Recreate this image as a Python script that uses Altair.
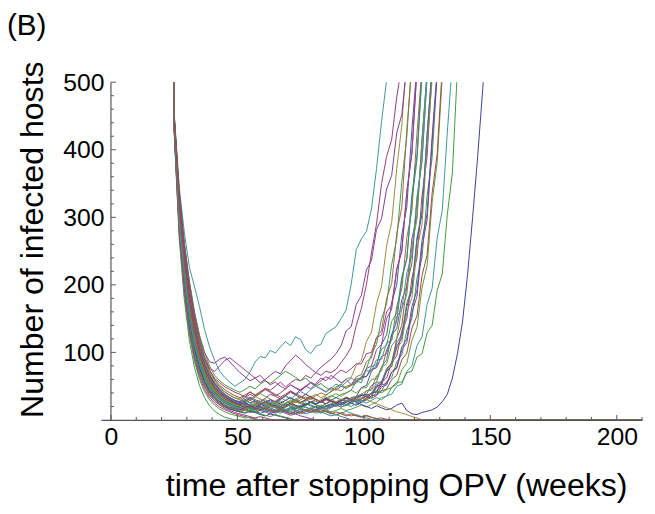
import altair as alt
import pandas as pd

# ---------------- data ----------------
FIRST_WEEK = 23          # week of the first value in every run
WEEK_STEP = 2            # weeks between successive values
FINAL_WEEK = 210         # runs that went extinct stay at 0 until this week
PANEL_LABEL = ["(B)"]

X_MAJOR = [0, 50, 100, 150, 200]
X_MINOR = [10, 20, 30, 40, 60, 70, 80, 90, 110, 120, 130, 140, 160, 170, 180, 190, 210]
Y_MAJOR = [100, 200, 300, 400, 500]
Y_MINOR = [20, 40, 60, 80, 120, 140, 160, 180, 220, 240, 260, 280,
           320, 340, 360, 380, 420, 440, 460, 480]
Y_AXIS_SPAN = [0, 500]

# re-emerging runs
r01 = [3000, 455, 345, 278, 226, 198, 168, 134, 108, 88, 72, 63, 56, 50,
       55, 60, 71, 86, 94, 92, 103, 99, 108, 116,
       110, 123, 119, 104, 98, 109, 112, 128, 133, 138,
       150, 163, 201, 252, 268, 279, 312, 372, 442, 503, 565]
r02 = [3000, 445, 330, 255, 196, 150, 113, 90, 74, 62, 55, 49, 45, 41,
       38, 34, 42, 36, 40, 47, 44, 50, 56, 49,
       55, 60, 58, 66, 62, 70, 66, 72, 70, 75,
       85, 95, 108, 140, 165, 200, 247, 290, 350, 390, 415, 478, 525]
r03 = [3000, 440, 305, 228, 168, 124, 93, 70, 55, 44, 36, 30, 27, 24,
       22, 26, 21, 25, 30, 27, 24, 28, 33, 29,
       26, 31, 35, 30, 34, 38, 33, 36, 42, 47,
       52, 61, 63, 81, 88, 116, 130, 172, 198, 258, 292, 372, 436, 540]
r04 = [3000, 450, 338, 262, 205, 160, 124, 100, 86, 84, 90, 93, 86, 78,
       70, 64, 58, 62, 55, 60, 66, 72, 68, 80,
       88, 96, 90, 82, 76, 70, 78, 84, 90, 98,
       110, 132, 138, 171, 184, 222, 236, 282, 298, 342, 362, 425, 452, 525]
r05 = [3000, 438, 298, 215, 158, 117, 87, 66, 51, 41, 34, 29, 25, 23,
       21, 24, 19, 22, 26, 23, 20, 25, 28, 24, 27, 31, 26, 29, 33, 30, 27, 32, 36, 33, 38,
       40, 44, 58, 55, 76, 97, 112, 150, 172, 230, 268, 352, 420, 535]
r06 = [3000, 447, 326, 250, 190, 146, 110, 85, 67, 54, 45, 38, 33, 29,
       27, 30, 25, 28, 22, 26, 30, 27, 23, 20, 24, 28, 25, 21, 26, 30, 27, 24, 29, 33, 30, 28,
       33, 35, 48, 51, 72, 80, 112, 126, 174, 200, 274, 316, 430, 525]
r07 = [3000, 442, 310, 232, 172, 128, 96, 73, 57, 46, 38, 33, 29, 26,
       28, 33, 38, 34, 40, 45, 41, 36, 40, 46, 52, 47, 43, 49, 55, 50, 46, 42, 48, 44, 50, 47,
       52, 61, 60, 76, 80, 104, 112, 150, 164, 222, 250, 338, 396, 520]
r08 = [3000, 436, 292, 208, 150, 109, 80, 60, 46, 37, 30, 25, 22, 19,
       17, 20, 15, 18, 14, 17, 21, 18, 15, 19, 23, 20, 17, 22, 26, 22, 19, 24, 28, 25, 22, 27, 30,
       30, 31, 43, 46, 65, 73, 104, 118, 168, 194, 270, 310, 424, 522]
r09 = [3000, 452, 335, 262, 205, 160, 126, 100, 80, 66, 58, 52, 48, 44,
       41, 45, 50, 46, 53, 58, 54, 60, 66, 72, 68, 63, 58, 62, 55, 50, 54, 48, 44, 49, 53, 47, 51,
       54, 63, 64, 79, 82, 105, 110, 146, 158, 212, 238, 326, 384, 512]
r10 = [3000, 432, 285, 200, 140, 100, 72, 53, 40, 31, 25, 20, 17, 14,
       12, 15, 11, 13, 10, 12, 15, 13, 16, 12, 14, 18, 15, 13, 17, 20, 17, 21, 24, 21, 25, 28, 26,
       30, 36, 38, 51, 56, 79, 89, 127, 146, 208, 240, 334, 392, 518]
r11 = [3000, 446, 322, 244, 184, 140, 106, 82, 65, 53, 44, 37, 32, 28,
       26, 30, 34, 30, 27, 32, 38, 35, 31, 36, 42, 38, 45, 50, 46, 54, 62, 58, 66, 61, 55, 60, 52, 57,
       64, 64, 75, 77, 94, 98, 126, 135, 178, 198, 268, 303, 416, 515]
r12 = [3000, 441, 306, 226, 166, 123, 91, 69, 53, 42, 34, 28, 24, 21,
       19, 16, 20, 17, 14, 18, 15, 12, 16, 13, 17, 14, 11, 15, 18, 15, 19, 16, 20, 23, 19, 22, 25, 22,
       26, 33, 35, 48, 53, 74, 85, 120, 140, 200, 232, 326, 384, 510]
r13 = [3000, 449, 330, 252, 193, 148, 112, 88, 70, 58, 49, 42, 37, 33,
       31, 35, 30, 34, 39, 35, 31, 27, 31, 36, 32, 28, 33, 38, 34, 30, 26, 30, 35, 39, 35, 40, 44, 40,
       47, 48, 60, 61, 78, 83, 110, 120, 165, 186, 258, 297, 414, 514]
r14 = [3000, 437, 296, 212, 153, 112, 82, 62, 48, 38, 31, 26, 22, 19,
       17, 14, 18, 22, 19, 24, 28, 25, 30, 35, 31, 37, 42, 38, 45, 50, 46, 41, 47, 53, 49, 56, 62, 58,
       64, 73, 72, 89, 90, 114, 118, 153, 164, 218, 243, 330, 384, 508]
r15 = [3000, 443, 314, 236, 177, 133, 99, 76, 60, 48, 40, 34, 29, 25,
       23, 26, 22, 19, 23, 27, 24, 21, 25, 29, 33, 29, 26, 30, 26, 23, 27, 31, 28, 24, 28, 32, 29, 33, 36,
       37, 38, 50, 53, 72, 79, 109, 121, 168, 192, 266, 305, 420, 520]
r16 = [3000, 434, 288, 204, 145, 104, 76, 56, 43, 34, 27, 22, 19, 16,
       14, 17, 13, 11, 14, 12, 9, 12, 15, 12, 10, 13, 16, 13, 11, 14, 17, 21, 18, 22, 26, 23, 27, 31, 28,
       32, 39, 42, 56, 62, 85, 95, 132, 150, 210, 240, 332, 390, 517]
r17 = [3000, 448, 328, 250, 192, 147, 111, 86, 68, 56, 47, 41, 36, 32,
       30, 27, 31, 35, 31, 28, 24, 28, 25, 21, 25, 29, 26, 23, 27, 24, 28, 32, 29, 26, 30, 34, 31, 35, 38,
       43, 44, 55, 57, 74, 79, 106, 116, 159, 181, 252, 290, 406, 505]
r18 = [3000, 439, 302, 220, 160, 118, 87, 66, 51, 40, 33, 27, 23, 20,
       18, 21, 17, 20, 24, 20, 17, 21, 18, 15, 19, 16, 20, 24, 21, 18, 22, 19, 23, 27, 24, 21, 25, 29, 26, 30,
       33, 40, 43, 57, 63, 86, 96, 133, 150, 210, 240, 332, 388, 515]
r19 = [3000, 444, 318, 240, 181, 137, 103, 79, 62, 50, 41, 35, 30, 26,
       24, 28, 32, 28, 24, 21, 25, 22, 19, 23, 20, 17, 21, 25, 22, 19, 16, 20, 23, 20, 24, 28, 25, 22, 26, 30,
       36, 37, 49, 52, 71, 78, 108, 120, 168, 192, 266, 305, 420, 520]
r20 = [3000, 451, 334, 258, 200, 155, 120, 94, 76, 72, 80, 88, 92, 86,
       80, 74, 68, 62, 66, 58, 52, 56, 50, 46, 52, 48, 44, 50, 56, 52, 58, 64, 60, 68, 74, 70,
       76, 83, 83, 98, 100, 122, 126, 160, 170, 224, 250, 338, 395, 520]
r21 = [3000, 433, 283, 196, 137, 97, 70, 51, 38, 29, 23, 19, 16, 14,
       12, 15, 13, 16, 19, 16, 20, 24, 21, 25, 29, 26, 30, 34, 31, 36, 40, 37, 42, 46, 43,
       50, 52, 64, 67, 86, 92, 122, 133, 180, 202, 276, 315, 430, 525]
r22 = [3000, 440, 304, 222, 162, 120, 89, 67, 52, 41, 33, 28, 24, 21,
       19, 16, 19, 22, 19, 16, 13, 16, 19, 16, 13, 10, 13, 16, 13, 10, 12, 15, 12, 14, 17, 14, 16, 19, 22, 19, 23,
       26, 33, 35, 48, 53, 74, 84, 118, 137, 196, 228, 322, 382, 508]
r23 = [3000, 446, 320, 242, 183, 139, 105, 81, 64, 52, 43, 37, 32, 28,
       26, 29, 25, 22, 26, 30, 26, 23, 20, 24, 21, 18, 22, 19, 16, 20, 17, 14, 18, 22, 19, 23, 20, 24, 28, 25,
       29, 33, 30,
       36, 38, 50, 53, 72, 80, 110, 123, 171, 195, 270, 310, 426, 530]
r24 = [3000, 437, 294, 210, 151, 110, 81, 61, 47, 37, 30, 25, 21, 18,
       16, 19, 16, 13, 16, 19, 22, 19, 16, 20, 24, 21, 18, 22, 26, 23, 20, 24, 28, 25, 29, 33, 30, 34, 38,
       35, 39, 43, 40, 45,
       48, 56, 56, 70, 72, 93, 98, 129, 140, 192, 216, 304, 366, 520]
r25 = [3000, 441, 309, 230, 170, 127, 95, 72, 56, 45, 37, 31, 27, 24,
       22, 25, 21, 18, 22, 26, 23, 20, 17, 21, 25, 22, 19, 23, 27, 24, 28, 32, 28, 25,
       29, 33, 30, 26, 23, 20, 17, 21, 18, 15, 17, 22, 25, 14, 9, 8, 11, 13, 15, 19,
       27, 38, 62, 98, 145, 215, 300, 390, 490, 600]
r26 = [3000, 435, 290, 206, 147, 106, 77, 57, 44, 35, 28, 23, 19, 17,
       15, 18, 21, 18, 22, 26, 30, 26, 31, 36, 41, 37, 33, 38, 34, 30, 26, 30, 27, 24, 28, 32, 29, 33, 37, 34,
       40, 41, 52, 54, 71, 76, 104, 115, 159, 183, 256, 296, 412, 512]
r27 = [3000, 450, 332, 255, 197, 152, 116, 91, 73, 60, 51, 45, 40, 36,
       33, 37, 41, 37, 42, 46, 42, 38, 34, 38, 43, 39, 35, 31, 35, 31, 27, 24, 28, 25, 22, 26, 30, 27, 31, 35, 32,
       36, 43, 46, 60, 66, 89, 99, 136, 154, 214, 244, 336, 394, 522]
r28 = [3000, 444, 316, 238, 179, 135, 101, 78, 62, 50, 42, 36, 31, 27,
       25, 21, 18, 15, 18, 14, 11, 14, 17, 14, 11, 9, 12, 15, 12, 16, 20, 17, 21, 25, 22, 26, 30, 27, 31,
       37, 39, 52, 56, 76, 84, 114, 126, 173, 196, 270, 309, 424, 524]

# runs that died out (last value 0)
e01 = [3000, 425, 268, 178, 118, 78, 51, 33, 21, 13, 8, 4, 2, 0]
e02 = [3000, 430, 278, 190, 130, 90, 63, 45, 33, 25, 19, 15, 12, 9, 7, 5, 3, 1, 0]
e03 = [3000, 436, 290, 205, 146, 105, 76, 56, 42, 32, 25, 20, 16, 14,
       12, 10, 13, 11, 8, 6, 9, 7, 5, 3, 0]
e04 = [3000, 441, 308, 228, 168, 125, 93, 71, 55, 44, 36, 30, 26, 23,
       21, 24, 20, 23, 27, 24, 21, 25, 22, 19, 23, 27, 24, 28, 31, 27, 30, 34, 30, 27,
       31, 28, 32, 29, 33, 30, 27, 24, 21, 18, 15, 12, 10, 8, 5, 3, 0]
e05 = [3000, 447, 324, 246, 187, 142, 107, 83, 66, 54, 45, 38, 33, 29,
       26, 23, 20, 17, 20, 16, 13, 10, 13, 10, 7, 9, 6, 4, 2, 0]
e06 = [3000, 433, 286, 200, 141, 101, 73, 54, 41, 32, 26, 21, 18, 15,
       13, 11, 14, 12, 9, 7, 5, 8, 6, 4, 2, 0]
e07 = [3000, 439, 300, 218, 158, 116, 86, 65, 50, 40, 33, 28, 24, 21,
       19, 22, 18, 15, 18, 21, 18, 15, 12, 15, 18, 15, 12, 9, 12, 15, 12, 9, 6, 8, 5, 3, 0]
e08 = [3000, 428, 274, 185, 126, 87, 60, 42, 30, 22, 16, 12, 9, 7, 5, 3, 4, 2, 0]
e09 = [3000, 442, 312, 232, 172, 128, 96, 73, 57, 46, 38, 32, 27, 24,
       21, 25, 29, 25, 22, 26, 22, 19, 16, 19, 23, 20, 17, 14, 17, 14, 11, 14, 11, 8,
       11, 8, 6, 8, 5, 7, 4, 2, 0]
e10 = [3000, 431, 281, 194, 134, 94, 67, 49, 36, 28, 22, 17, 14, 11, 9, 7, 5, 3, 5, 3, 1, 0]
e11 = [3000, 438, 296, 213, 154, 112, 83, 63, 49, 39, 32, 27, 23, 20,
       17, 20, 23, 19, 16, 13, 16, 13, 10, 13, 16, 13, 16, 19, 16, 13, 10, 13, 10, 7,
       10, 13, 10, 7, 5, 3, 1, 0]
e12 = [3000, 443, 316, 236, 176, 132, 99, 76, 60, 48, 40, 34, 29, 25,
       22, 19, 22, 18, 15, 18, 15, 12, 15, 12, 9, 12, 9, 12, 15, 12, 15, 12, 9, 12,
       9, 6, 9, 6, 4, 6, 4, 2, 3, 1, 0]

RUNS = [r01, r02, r03, r04, r05, r06, r07, r08, r09, r10, r11, r12, r13, r14,
        r15, r16, r17, r18, r19, r20, r21, r22, r23, r24, r25, r26, r27, r28,
        e01, e02, e03, e04, e05, e06, e07, e08, e09, e10, e11, e12]
RUN_NAMES = ["r01", "r02", "r03", "r04", "r05", "r06", "r07", "r08", "r09", "r10",
             "r11", "r12", "r13", "r14", "r15", "r16", "r17", "r18", "r19", "r20",
             "r21", "r22", "r23", "r24", "r25", "r26", "r27", "r28",
             "e01", "e02", "e03", "e04", "e05", "e06", "e07", "e08", "e09", "e10",
             "e11", "e12"]
COLORS = ["#3d9799", "#993d71", "#998b3d", "#833d99", "#3d9955", "#3d5a99", "#993d90",
          "#996c3d", "#43993d", "#3d7999", "#833d99", "#994e3d", "#62993d", "#3d9799",
          "#3e3d99", "#993d71", "#998b3d", "#3d9955", "#3d5a99", "#993d90", "#996c3d",
          "#62993d", "#3d9799", "#43993d", "#3e3d99", "#833d99", "#994e3d", "#3d7999",
          "#3d9955", "#993d71", "#3e3d99", "#998b3d", "#833d99", "#43993d", "#3d7999",
          "#62993d", "#996c3d", "#993d90", "#3d9799", "#994e3d"]

# ---------------- build table ----------------
rows = []
for name, vals in zip(RUN_NAMES, RUNS):
    for i, v in enumerate(vals):
        rows.append({"run": name, "week": FIRST_WEEK + WEEK_STEP * i, "infected": v})
    if vals[-1] == 0:
        rows.append({"run": name, "week": FINAL_WEEK, "infected": 0})
df = pd.DataFrame(rows)

FONT = "Liberation Sans"
AXIS_COLOR = "#555555"
W, H = 548, 342

x_scale = alt.Scale(domain=[-4, 210], nice=False, zero=False)
y_scale = alt.Scale(domain=[0, 500], nice=False, zero=False)

x_axis = alt.Axis(values=X_MAJOR, ticks=False, grid=False, domainColor=AXIS_COLOR,
                  domainWidth=1.2, labelFont=FONT, labelFontSize=25, labelColor="black",
                  labelPadding=5, labelFlush=False,
                  title="time after stopping OPV (weeks)", titleFont=FONT, titleFontSize=32.5,
                  titleFontWeight="normal", titleColor="black", titleX=299, titleY=76,
                  titleAlign="center", titleBaseline="alphabetic")
y_axis = alt.Axis(values=Y_MAJOR, ticks=False, grid=False, domain=False, offset=-10.24,
                  labelFont=FONT, labelFontSize=25, labelColor="black", labelPadding=7,
                  labelFlush=False,
                  title="Number of infected hosts", titleFont=FONT, titleFontSize=32.5,
                  titleFontWeight="normal", titleColor="black", titleAngle=-90,
                  titleX=-69, titleY=159, titleAlign="center", titleBaseline="alphabetic")

X = alt.X("week:Q", scale=x_scale, axis=x_axis)
Y = alt.Y("infected:Q", scale=y_scale, axis=y_axis)

lines = alt.Chart(df).mark_line(strokeWidth=1, clip=True).encode(
    x=X, y=Y,
    color=alt.Color("run:N", scale=alt.Scale(domain=RUN_NAMES, range=COLORS), legend=None),
    detail="run:N",
)

xmaj = pd.DataFrame({"week": X_MAJOR, "infected": [0] * len(X_MAJOR)})
xmin = pd.DataFrame({"week": X_MINOR, "infected": [0] * len(X_MINOR)})
ymaj = pd.DataFrame({"week": [0] * len(Y_MAJOR), "infected": Y_MAJOR})
ymin = pd.DataFrame({"week": [0] * len(Y_MINOR), "infected": Y_MINOR})
yline = pd.DataFrame({"week": [0], "infected": [Y_AXIS_SPAN[0]], "infected_end": [Y_AXIS_SPAN[1]]})


def xticks(d, length):
    return alt.Chart(d).mark_rule(color=AXIS_COLOR, strokeWidth=1, y2Offset=-length).encode(
        x=X, y=Y, y2=alt.Y2("infected:Q"))


def yticks(d, length):
    return alt.Chart(d).mark_rule(color=AXIS_COLOR, strokeWidth=1, x2Offset=length).encode(
        x=X, x2=alt.X2("week:Q"), y=Y)


yaxis_line = alt.Chart(yline).mark_rule(color=AXIS_COLOR, strokeWidth=1.2).encode(
    x=X, y=Y, y2=alt.Y2("infected_end:Q"))

panel = alt.Chart(pd.DataFrame({"panel": PANEL_LABEL})).mark_text(
    font=FONT, fontSize=30, align="left", baseline="alphabetic", color="black"
).encode(text="panel:N", x=alt.value(-95), y=alt.value(-48))

chart = alt.layer(
    lines, xticks(xmaj, 5), xticks(xmin, 3), yticks(ymaj, 5), yticks(ymin, 3), yaxis_line, panel
).properties(
    width=W, height=H,
    autosize=alt.AutoSizeParams(type="none"),
    padding={"left": 94, "top": 72, "right": 5, "bottom": 84},
).configure_view(stroke=None)

chart.save("out.html", embed_options={"renderer": "svg", "actions": False})
